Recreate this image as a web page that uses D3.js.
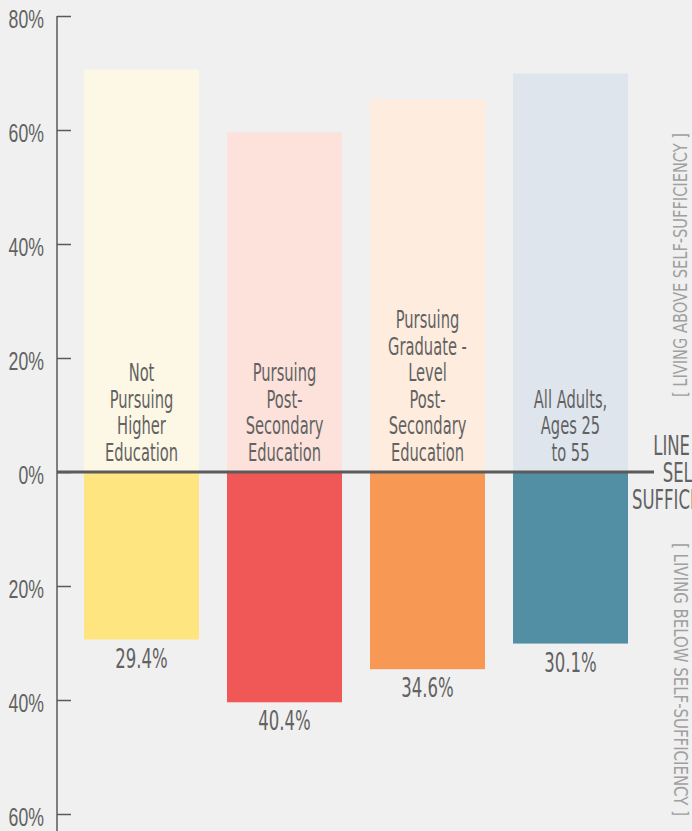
<!DOCTYPE html>
<html>
<head>
<meta charset="utf-8">
<script src="https://cdn.jsdelivr.net/npm/d3@7"></script>
<style>
  html, body { margin: 0; padding: 0; background: #f0f0f0; }
  svg { display: block; font-family: "DejaVu Sans Condensed", "Liberation Sans Narrow", sans-serif; }
</style>
</head>
<body>
<svg width="692" height="831"></svg>
<script>
// data
const categories = [
    ['Not', 'Pursuing', 'Higher', 'Education'],
    ['Pursuing', 'Post-', 'Secondary', 'Education'],
    ['Pursuing', 'Graduate -', 'Level', 'Post-', 'Secondary', 'Education'],
    ['All Adults,', 'Ages 25', 'to 55']
];
const belowValues = [29.4, 40.4, 34.6, 30.1];
const aboveValues = [70.6, 59.6, 65.4, 69.9];
const lightColors = ['#fdf7e6', '#fde2dc', '#feeddf', '#dfe5ec'];
const darkColors = ['#ffe580', '#f05757', '#f79855', '#528fa5'];
const tickValues = [80, 60, 40, 20, 0, -20, -40, -60];
const lineLabel = ['LINE OF', 'SELF-', 'SUFFICIENCY'];
const aboveLabel = '[ LIVING ABOVE SELF-SUFFICIENCY ]';
const belowLabel = '[ LIVING BELOW SELF-SUFFICIENCY ]';

const svg = d3.select('svg');
const textColor = '#626262';
const axisColor = '#5a5a5a';
const SQ = 0.68; // horizontal squeeze to mimic the condensed face

const squeeze = (x, y) => `translate(${x},${y}) scale(${SQ},1)`;

const y = d3.scaleLinear().domain([80, -60]).range([16, 814]);
const x = d3.scaleBand()
            .domain(d3.range(categories.length))
            .range([70, 642])
            .paddingInner(28 / 143)
            .paddingOuter(14 / 143);

const bars = svg.append('g').attr('class', 'bars');

// upper (light) bars
bars.selectAll('rect.above')
    .data(aboveValues)
    .enter().append('rect')
    .attr('class', 'above')
    .attr('x', (d, i) => x(i))
    .attr('width', x.bandwidth())
    .attr('y', d => y(d))
    .attr('height', d => y(0) - y(d))
    .attr('fill', (d, i) => lightColors[i]);

// lower (dark) bars
bars.selectAll('rect.below')
    .data(belowValues)
    .enter().append('rect')
    .attr('class', 'below')
    .attr('x', (d, i) => x(i))
    .attr('width', x.bandwidth())
    .attr('y', y(0))
    .attr('height', d => y(-d) - y(0))
    .attr('fill', (d, i) => darkColors[i]);

// value labels under the bars
bars.selectAll('text.value')
    .data(belowValues)
    .enter().append('text')
    .attr('class', 'value')
    .attr('transform', (d, i) => squeeze(x(i) + x.bandwidth() / 2, y(-d) + 28))
    .attr('text-anchor', 'middle')
    .attr('font-size', 27)
    .attr('fill', textColor)
    .text(d => d.toFixed(1) + '%');

// category labels, bottom aligned just above the zero line
const lineHeight = 26.5;
bars.selectAll('text.cat')
    .data(categories)
    .enter().append('text')
    .attr('class', 'cat')
    .attr('transform', (d, i) => squeeze(x(i) + x.bandwidth() / 2, 0))
    .attr('text-anchor', 'middle')
    .attr('font-size', 24)
    .attr('fill', textColor)
    .each(function(lines) {
        d3.select(this).selectAll('tspan')
          .data(lines)
          .enter().append('tspan')
          .attr('x', 0)
          .attr('y', (l, j) => y(0) - 11 - (lines.length - 1 - j) * lineHeight)
          .text(l => l);
    });

// y axis
const axis = svg.append('g')
    .attr('transform', 'translate(57,0)')
    .call(d3.axisLeft(y)
        .tickValues(tickValues)
        .tickSizeInner(-14)
        .tickSizeOuter(0)
        .tickPadding(13)
        .tickFormat(d => Math.abs(d) + '%'));

axis.select('.domain').remove();
axis.selectAll('.tick line').attr('stroke', axisColor).attr('stroke-width', 1.5);
axis.selectAll('.tick text')
    .attr('x', null)
    .attr('dy', null)
    .attr('transform', squeeze(-13, 11.5))
    .attr('fill', textColor)
    .attr('font-size', 26)
    .attr('font-family', null);
axis.append('line')
    .attr('y1', y(80))
    .attr('y2', 831)
    .attr('stroke', axisColor)
    .attr('stroke-width', 1.5);

// zero line
svg.append('line')
   .attr('x1', 57)
   .attr('x2', 654)
   .attr('y1', y(0))
   .attr('y2', y(0))
   .attr('stroke', axisColor)
   .attr('stroke-width', 3);

// line of self-sufficiency label, centred so the long word starts at x=632
const lineText = svg.append('text')
   .attr('text-anchor', 'middle')
   .attr('font-size', 27)
   .attr('fill', textColor);
lineText.selectAll('tspan')
   .data(lineLabel)
   .enter().append('tspan')
   .attr('x', 0)
   .attr('y', (d, i) => y(0) - 17 + i * 27)
   .text(d => d);
const longest = lineText.selectAll('tspan').filter((d, i) => i === 2).node().getComputedTextLength();
lineText.attr('transform', squeeze(632 + longest * SQ / 2, 0));

// side labels
svg.append('text')
   .attr('transform', `translate(687,${(133 + 397) / 2}) rotate(-90)`)
   .attr('text-anchor', 'middle')
   .attr('font-size', 19)
   .attr('fill', '#a0a0a0')
   .attr('textLength', 264)
   .attr('lengthAdjust', 'spacingAndGlyphs')
   .text(aboveLabel);

svg.append('text')
   .attr('transform', `translate(674,${(543 + 816) / 2}) rotate(90)`)
   .attr('text-anchor', 'middle')
   .attr('font-size', 19)
   .attr('fill', '#a0a0a0')
   .attr('textLength', 273)
   .attr('lengthAdjust', 'spacingAndGlyphs')
   .text(belowLabel);
</script>
</body>
</html>
